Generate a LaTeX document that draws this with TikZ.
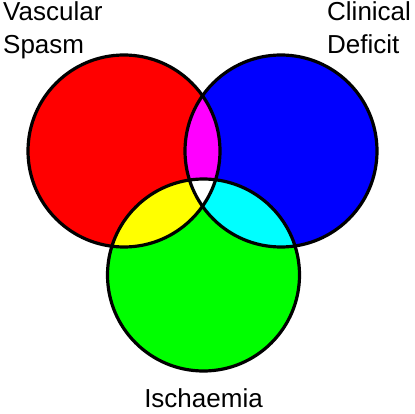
\documentclass[tikz,border=0pt]{standalone}
\usepackage{fontspec}
\setmainfont{Liberation Sans}
\definecolor{vsred}{RGB}{255,0,0}
\definecolor{cdblue}{RGB}{0,0,255}
\definecolor{isgreen}{RGB}{0,255,0}
\definecolor{rbmix}{RGB}{255,0,255}
\definecolor{rgmix}{RGB}{255,255,0}
\definecolor{bgmix}{RGB}{0,255,255}
\begin{document}
\begin{tikzpicture}[x=1pt,y=1pt,
    ring/.style={draw=black,line width=3.2pt},
    caption/.style={inner sep=0pt,align=left,
        font=\fontsize{26}{33}\selectfont}]
    \useasboundingbox (0,0) rectangle (415,413);
    \coordinate (vs) at (124,262);
    \coordinate (cd) at (281,262);
    \coordinate (is) at (203.5,138);
    \def\rr{96}

    % Circles.
    \fill[vsred] (vs) circle (\rr);
    \fill[cdblue] (cd) circle (\rr);
    \fill[isgreen] (is) circle (\rr);

    % Overlaps.
    \begin{scope}
        \clip (vs) circle (\rr);
        \fill[rbmix] (cd) circle (\rr);
        \fill[rgmix] (is) circle (\rr);
    \end{scope}
    \begin{scope}
        \clip (cd) circle (\rr);
        \fill[bgmix] (is) circle (\rr);
        \clip (vs) circle (\rr);
        \fill[white] (is) circle (\rr);
    \end{scope}

    \draw[ring] (vs) circle (\rr);
    \draw[ring] (cd) circle (\rr);
    \draw[ring] (is) circle (\rr);

    % Labels.
    \node[caption,anchor=base west] (spasm) at (3,359)
        {Vascular\\Spasm};
    \node[caption,anchor=base west] (deficit) at (327,359)
        {Clinical\\Deficit};
    \node[caption,anchor=base] (ischaemia) at (203.5,6)
        {Ischaemia};
\end{tikzpicture}
\end{document}
